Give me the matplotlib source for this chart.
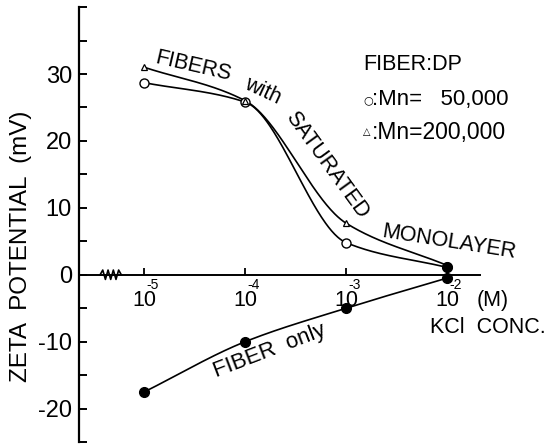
import numpy as np
import matplotlib
matplotlib.use("Agg")
import matplotlib.pyplot as plt

plt.rcParams['font.family'] = ['Liberation Sans', 'DejaVu Sans']
plt.rcParams['axes.unicode_minus'] = False

# KCl concentration (M) and zeta potential (mV)
conc = [1e-5, 1e-4, 1e-3, 1e-2]
zeta_mn50k = [28.7, 25.8, 4.8, 1.1]      # open circles, Mn = 50,000
zeta_mn200k = [31.0, 26.0, 7.7, 1.4]     # open triangles, Mn = 200,000
zeta_fiber = [-17.5, -10.0, -5.0, -0.5]  # filled circles, fiber only

decades = [-5, -4, -3, -2]
yticks_major = [-20, -10, 0, 10, 20, 30]
yticks_minor = [-25, -15, -5, 5, 15, 25, 35, 40]


def pchip(x, y, xs):
    # monotone cubic through the measured points, only for drawing the line
    x = np.asarray(x, float)
    y = np.asarray(y, float)
    h = np.diff(x)
    d = np.diff(y) / h
    m = np.zeros_like(y)
    m[0], m[-1] = d[0], d[-1]
    for k in range(1, len(x) - 1):
        if d[k - 1] * d[k] > 0:
            w1 = 2 * h[k] + h[k - 1]
            w2 = h[k] + 2 * h[k - 1]
            m[k] = (w1 + w2) / (w1 / d[k - 1] + w2 / d[k])
    i = np.clip(np.searchsorted(x, xs) - 1, 0, len(x) - 2)
    t = (xs - x[i]) / h[i]
    h00 = 2 * t**3 - 3 * t**2 + 1
    h10 = t**3 - 2 * t**2 + t
    h01 = -2 * t**3 + 3 * t**2
    h11 = t**3 - t**2
    return h00 * y[i] + h10 * h[i] * m[i] + h01 * y[i + 1] + h11 * h[i] * m[i + 1]


fig = plt.figure(figsize=(5.52, 4.46), dpi=100)
ax = fig.add_axes([0.143, 0.009, 0.727, 0.975])
ax.set_xscale('log')
ax.set_xlim(10**-5.65, 10**-1.67)
ax.set_ylim(-25, 40)

lx = np.log10(conc)
xs = np.linspace(lx[0], lx[-1], 300)
for z in (zeta_mn50k, zeta_mn200k, zeta_fiber):
    ax.plot(10**xs, pchip(lx, z, xs), color='black', lw=1.2, zorder=2)

ax.plot(conc, zeta_mn50k, 'o', ms=6.5, mfc='white', mec='black', mew=1.0, zorder=3)
ax.plot(conc, zeta_mn200k, '^', ms=5, mfc='white', mec='black', mew=0.9, zorder=3)
ax.plot(conc[-1:], zeta_mn50k[-1:], 'o', ms=7, color='black', zorder=4)
ax.plot(conc, zeta_fiber, 'o', ms=7, color='black', zorder=3)

# axes: y axis at left, x axis through zero
for s in ('top', 'right'):
    ax.spines[s].set_visible(False)
ax.spines['bottom'].set_position(('data', 0))
ax.spines['left'].set_linewidth(1.6)
ax.spines['bottom'].set_linewidth(1.4)

ax.set_xticks([10.0**d for d in decades])
ax.set_xticklabels([])
ax.xaxis.set_minor_locator(matplotlib.ticker.NullLocator())
ax.tick_params(axis='x', direction='in', length=5, width=1.3)

ax.set_yticks(yticks_major)
ax.set_yticks(yticks_minor, minor=True)
ax.tick_params(axis='y', which='both', direction='in', length=6, width=1.4,
               labelsize=17, pad=5)
ax.set_ylabel('ZETA  POTENTIAL  (mV)', fontsize=17.5)
ax.yaxis.set_label_coords(-0.118, 0.45)

# axis break
zx = np.linspace(-5.44, -5.23, 9)
zy = np.array([0, 0.7, -0.7, 0.7, -0.7, 0.7, -0.7, 0.7, 0])
ax.plot(10**zx, zy, color='black', lw=1.2, zorder=5, clip_on=False)

# decade labels
for d in decades:
    ax.text(10.0**d, -3.9, '10', ha='center', va='center', fontsize=15.5)
    ax.text(10.0**(d + 0.02), -1.5, str(d), ha='left', va='center', fontsize=10)
ax.text(10**-1.55, -3.9, '(M)', ha='center', va='center', fontsize=15.5,
        clip_on=False)
ax.text(10**-2.17, -7.9, 'KCl  CONC.', ha='left', va='center', fontsize=15.5,
        clip_on=False)

# curve labels
ax.text(10**-4.52, 31.2, 'FIBERS', rotation=-13, ha='center', va='center', fontsize=15.5)
ax.text(10**-3.83, 27.4, 'with', rotation=-25, ha='center', va='center', fontsize=15.5)
ax.text(10**-3.19, 16.4, 'SATURATED', rotation=-54, ha='center', va='center', fontsize=15.5)
ax.text(10**-1.98, 4.9, 'MONOLAYER', rotation=-9, ha='center', va='center', fontsize=15.5)
ax.text(10**-3.76, -11.4, 'FIBER  only', rotation=21, ha='center', va='center', fontsize=16)

# legend block
fig.text(363 / 552, 1 - 65 / 446, 'FIBER:DP', ha='left', va='center', fontsize=15.5)
fig.text(363 / 552, 1 - 100 / 446, '\u25cb', ha='left', va='center', fontsize=8,
         family=['DejaVu Sans'])
fig.text(372 / 552, 1 - 100 / 446, ':Mn=   50,000', ha='left', va='center', fontsize=16)
fig.text(363 / 552, 1 - 132 / 446, '\u25b3', ha='left', va='center', fontsize=7,
         family=['DejaVu Sans'])
fig.text(372 / 552, 1 - 132 / 446, ':Mn=200,000', ha='left', va='center', fontsize=16.5)

fig.savefig('out.png', dpi=100)
